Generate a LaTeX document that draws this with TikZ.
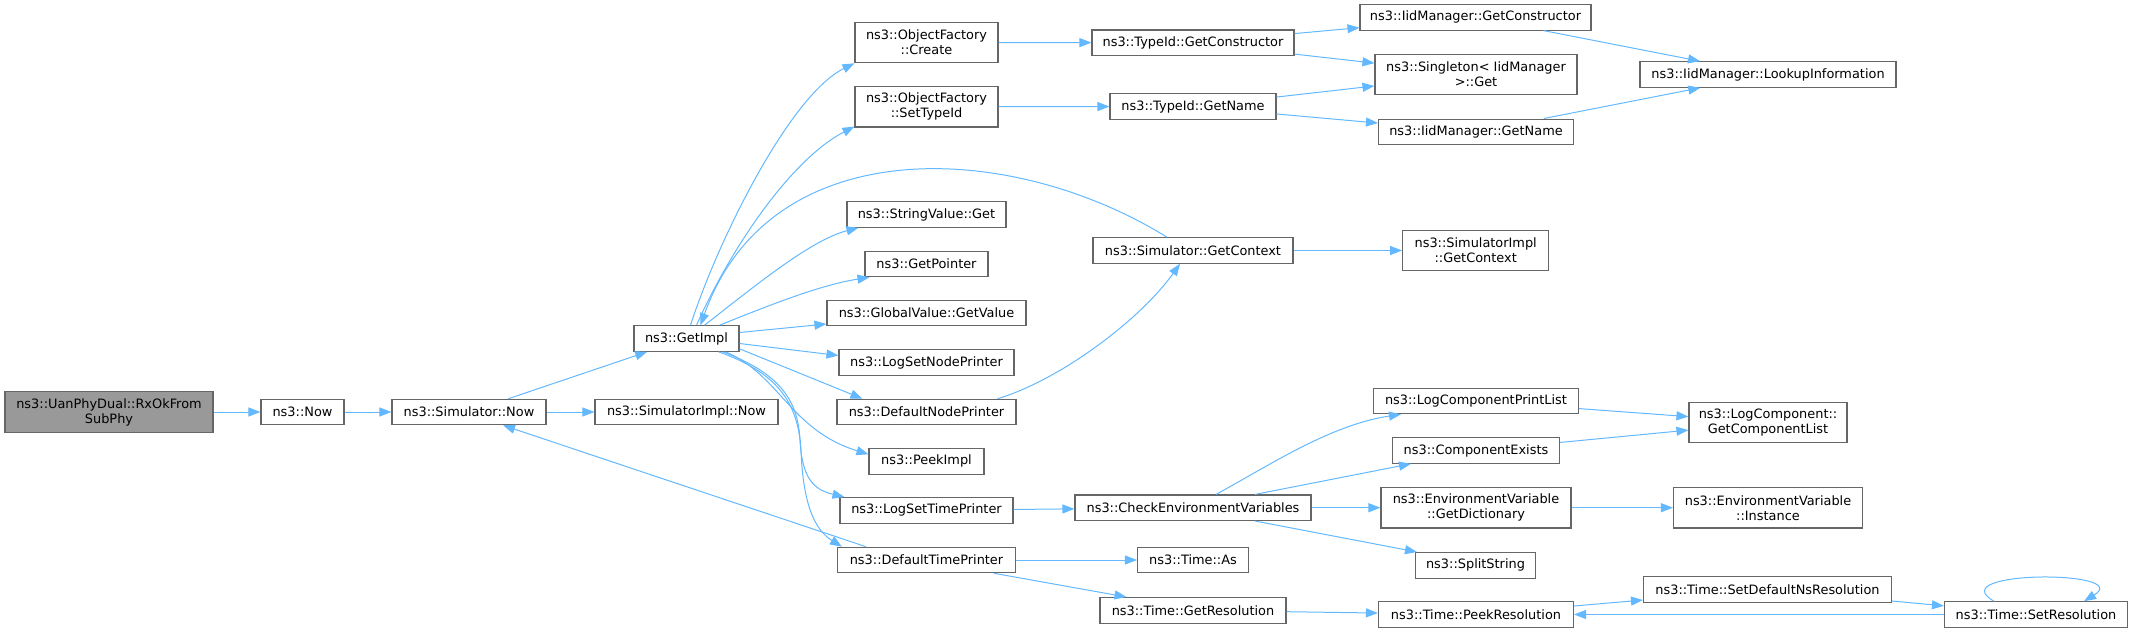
\documentclass[tikz,border=0pt]{standalone}
\usepackage{fontspec}
\setmainfont{DejaVu Sans}
\usetikzlibrary{arrows.meta,calc}
\definecolor{edgeblue}{HTML}{63B8FF}
\definecolor{nodeborder}{HTML}{666666}
\definecolor{rootfill}{HTML}{999999}
\tikzset{
  box/.style={draw=nodeborder, line width=1.1pt, fill=white, inner sep=0pt,
    minimum height=25.5pt, align=center, font=\fontsize{12.9}{15}\selectfont, text=black},
  box2/.style={box, minimum height=40.5pt},
  edge/.style={draw=edgeblue, line width=1pt, -{Triangle[length=12pt,width=9pt]}},
}
\begin{document}
\begin{tikzpicture}[x=1pt,y=1pt]
\useasboundingbox (0,0) rectangle (2133,-632);
% rank 0-3
\node[box2, fill=rootfill, minimum width=208pt] (rxok) at (109,-412) {ns3::UanPhyDual::RxOkFrom\\SubPhy};
\node[box, minimum width=83pt] (now) at (302.5,-412) {ns3::Now};
\node[box, minimum width=154pt] (simnow) at (469,-412) {ns3::Simulator::Now};
\node[box, minimum width=105pt] (getimpl) at (686.5,-338.5) {ns3::GetImpl};
\node[box, minimum width=183pt] (simimplnow) at (686.5,-412) {ns3::SimulatorImpl::Now};
% rank 4
\node[box2, minimum width=143pt] (ofcreate) at (926.5,-42.5) {ns3::ObjectFactory\\::Create};
\node[box2, minimum width=143pt] (ofsettypeid) at (926.5,-106.7) {ns3::ObjectFactory\\::SetTypeId};
\node[box, minimum width=159pt] (stringvalue) at (926.5,-214.5) {ns3::StringValue::Get};
\node[box, minimum width=123pt] (getpointer) at (926.5,-264) {ns3::GetPointer};
\node[box, minimum width=199pt] (globalvalue) at (926.5,-313) {ns3::GlobalValue::GetValue};
\node[box, minimum width=175pt] (logsetnode) at (926.5,-362.5) {ns3::LogSetNodePrinter};
\node[box, minimum width=179pt] (defnode) at (926.5,-412) {ns3::DefaultNodePrinter};
\node[box, minimum width=115pt] (peekimpl) at (926.5,-461.3) {ns3::PeekImpl};
\node[box, minimum width=173pt] (logsettime) at (926.5,-510.3) {ns3::LogSetTimePrinter};
\node[box, minimum width=178pt] (deftime) at (926.5,-560) {ns3::DefaultTimePrinter};
% rank 5
\node[box, minimum width=202pt] (tidctor) at (1193,-42.7) {ns3::TypeId::GetConstructor};
\node[box, minimum width=166pt] (tidname) at (1193,-106.5) {ns3::TypeId::GetName};
\node[box, minimum width=200pt] (simctx) at (1193,-250.5) {ns3::Simulator::GetContext};
\node[box, minimum width=236pt] (checkenv) at (1193,-507.7) {ns3::CheckEnvironmentVariables};
\node[box, minimum width=111pt] (timeas) at (1193,-560) {ns3::Time::As};
\node[box, minimum width=186pt] (getres) at (1193,-610.3) {ns3::Time::GetResolution};
% rank 6
\node[box, minimum width=231pt] (iidctor) at (1475.5,-17.3) {ns3::IidManager::GetConstructor};
\node[box2, minimum width=202pt] (singleton) at (1476,-74.5) {ns3::Singleton< IidManager\\>::Get};
\node[box, minimum width=195pt] (iidname) at (1476,-131.8) {ns3::IidManager::GetName};
\node[box2, minimum width=146pt] (simimplctx) at (1475.7,-250.5) {ns3::SimulatorImpl\\::GetContext};
\node[box, minimum width=205pt] (logcompprint) at (1476,-401) {ns3::LogComponentPrintList};
\node[box, minimum width=167pt] (compexists) at (1476,-450.5) {ns3::ComponentExists};
\node[box2, minimum width=190pt] (getdict) at (1476,-507.7) {ns3::EnvironmentVariable\\::GetDictionary};
\node[box, minimum width=120pt] (splitstring) at (1475.5,-565.3) {ns3::SplitString};
\node[box, minimum width=195pt] (peekres) at (1476,-614.5) {ns3::Time::PeekResolution};
% rank 7-8
\node[box, minimum width=256pt] (lookup) at (1768,-74.5) {ns3::IidManager::LookupInformation};
\node[box2, minimum width=158pt] (getcomplist) at (1768,-422.5) {ns3::LogComponent::\\GetComponentList};
\node[box2, minimum width=189pt] (instance) at (1768,-507.7) {ns3::EnvironmentVariable\\::Instance};
\node[box, minimum width=248pt] (setdefns) at (1767.5,-589.3) {ns3::Time::SetDefaultNsResolution};
\node[box, minimum width=183pt] (setres) at (2036,-614.5) {ns3::Time::SetResolution};

% edges
\draw[edge] (rxok) -- (now);
\draw[edge] (now) -- (simnow);
\draw[edge] (simnow) -- (getimpl);
\draw[edge] (simnow) -- (simimplnow);
\draw[edge] ($(getimpl.north)+(4,0)$) .. controls (718,-240) and (790,-95) .. (ofcreate.south west);
\draw[edge] ($(getimpl.north)+(10,0)$) .. controls (730,-250) and (790,-160) .. ($(ofsettypeid.south west)+(0,1)$);
\draw[edge] ($(simctx.north)+(-26,0)$) .. controls (1010,-140) and (770,-130) .. ($(getimpl.north)+(14,0)$);
\draw[edge] ($(getimpl.north)+(18,0)$) .. controls (750,-290) and (810,-240) .. ($(stringvalue.south west)+(12,0)$);
\draw[edge] ($(getimpl.north east)+(-20,0)$) .. controls (770,-305) and (820,-285) .. ($(getpointer.south west)+(5,0)$);
\draw[edge] ($(getimpl.east)+(0,6)$) -- ($(globalvalue.west)+(0,-11)$);
\draw[edge] ($(getimpl.east)+(0,-5)$) -- ($(logsetnode.west)+(0,7)$);
\draw[edge] ($(getimpl.south east)+(0,3)$) -- ($(defnode.north west)+(26,0)$);
\draw[edge] ($(getimpl.south east)+(-14,0)$) .. controls (780,-375) and (790,-430) .. ($(peekimpl.west)+(0,7)$);
\draw[edge] ($(getimpl.south east)+(-17,0)$) .. controls (785,-375) and (798,-405) .. (800,-440) .. controls (802,-480) and (815,-490) .. ($(logsettime.north west)+(5,0)$);
\draw[edge] ($(getimpl.south east)+(-21,0)$) .. controls (775,-372) and (798,-400) .. (801,-450) .. controls (803,-505) and (815,-530) .. ($(deftime.north west)+(5,0)$);
\draw[edge] ($(deftime.north west)+(29,0)$) -- ($(simnow.south)+(34,0)$);
\draw[edge] ($(defnode.north east)+(-19,0)$) .. controls (1060,-380) and (1140,-320) .. ($(simctx.south)+(-13,0)$);
\draw[edge] (simctx) -- (simimplctx);
\draw[edge] (logsettime) -- (checkenv);
\draw[edge] ($(checkenv.north)+(23,0)$) .. controls (1270,-465) and (1330,-425) .. ($(logcompprint.south west)+(28,0)$);
\draw[edge] ($(checkenv.north)+(62,0)$) -- ($(compexists.south west)+(19,0)$);
\draw[edge] (checkenv) -- (getdict);
\draw[edge] ($(checkenv.south)+(62,0)$) -- ($(splitstring.north west)+(2,0)$);
\draw[edge] (logcompprint) -- (getcomplist);
\draw[edge] (compexists) -- (getcomplist);
\draw[edge] (getdict) -- (instance);
\draw[edge] (deftime) -- (timeas);
\draw[edge] ($(deftime.south east)+(-22,0)$) -- ($(getres.north west)+(27,0)$);
\draw[edge] (getres) -- (peekres);
\draw[edge] (peekres) -- (setdefns);
\draw[edge] (setdefns) -- (setres);
\draw[edge] (setres) -- (peekres);
\draw[edge] ($(setres.north)+(-42,0)$) .. controls (1940,-570) and (2135,-570) .. ($(setres.north)+(48,0)$);
\draw[edge] (ofcreate) -- (tidctor);
\draw[edge] (ofsettypeid) -- (tidname);
\draw[edge] (tidctor) -- (iidctor);
\draw[edge] (tidctor) -- (singleton);
\draw[edge] (tidname) -- (singleton);
\draw[edge] (tidname) -- (iidname);
\draw[edge] (iidctor) -- (lookup);
\draw[edge] (iidname) -- (lookup);
\end{tikzpicture}
\end{document}
